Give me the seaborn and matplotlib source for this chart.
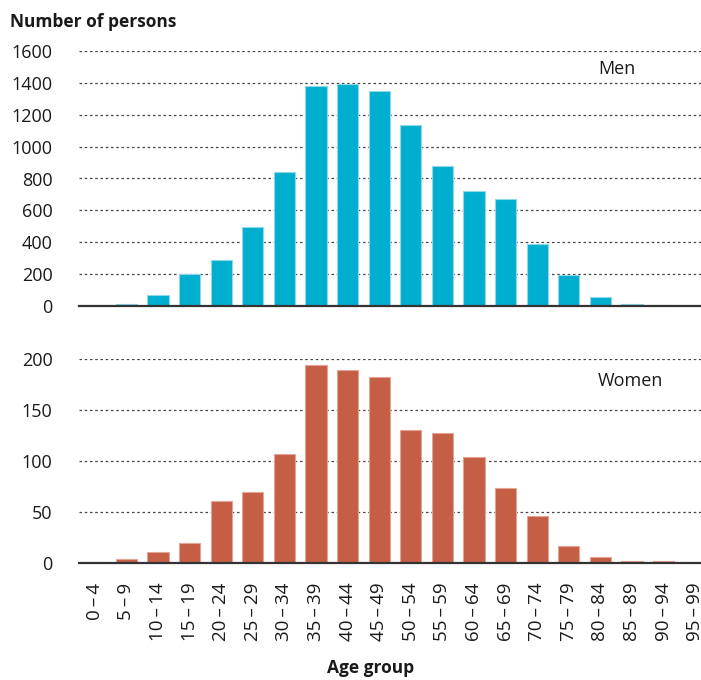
import matplotlib
matplotlib.use("Agg")
import matplotlib.pyplot as plt
import seaborn as sns
import pandas as pd

# Age groups and counts
age_groups = ["0–4", "5–9", "10–14", "15–19", "20–24", "25–29", "30–34",
              "35–39", "40–44", "45–49", "50–54", "55–59", "60–64", "65–69",
              "70–74", "75–79", "80–84", "85–89", "90–94", "95–99"]
men = [0, 14, 70, 200, 291, 493, 841, 1380, 1392, 1346, 1134, 876, 723,
       671, 390, 195, 55, 15, 6, 0]
women = [0, 3.5, 11, 20, 61, 70, 107, 194, 189, 182, 130, 127, 103.5,
         74, 46.5, 16.5, 5.5, 2, 2, 0]

men_ticks = [0, 200, 400, 600, 800, 1000, 1200, 1400, 1600]
women_ticks = [0, 50, 100, 150, 200]

MEN_COLOR = "#00AECF"
WOMEN_COLOR = "#C45E45"

sns.set_theme(style="white")
plt.rcParams["font.family"] = ["Open Sans", "DejaVu Sans"]

df = pd.DataFrame({"age": age_groups, "men": men, "women": women})

W, H = 701, 680
fig = plt.figure(figsize=(W / 100, H / 100), dpi=100)

left = 79 / W
width = 632 / W
ax_m = fig.add_axes([left, 1 - 306 / H, width, 255 / H])
ax_w = fig.add_axes([left, 1 - 563 / H, width, 204 / H])


def style_panel(ax, ticks, color, edge, col):
    sns.barplot(data=df, x="age", y=col, color=color, saturation=1,
                width=0.665, edgecolor=edge, linewidth=0.8, ax=ax)
    ax.set_ylim(0, ticks[-1])
    ax.set_yticks(ticks)
    ax.set_xlim(-0.5, len(age_groups) - 0.5)
    ax.yaxis.grid(True, linestyle=(0, (2, 2.2)), color="#444444", lw=0.9)
    ax.set_axisbelow(True)
    for s in ["left", "right", "top"]:
        ax.spines[s].set_visible(False)
    ax.spines["bottom"].set_color("#333333")
    ax.spines["bottom"].set_linewidth(1.6)
    ax.tick_params(axis="y", length=0, pad=19, labelsize=13, labelcolor="#1a1a1a")
    ax.set_xlabel("")
    ax.set_ylabel("")


style_panel(ax_m, men_ticks, MEN_COLOR, "#8FD8E8", "men")
style_panel(ax_w, women_ticks, WOMEN_COLOR, "#E5A594", "women")

# spaced-out dash as in the original labels
xlabels = [a.replace("–", "\u2009–\u2009") for a in age_groups]

ax_m.tick_params(axis="x", length=0, labelbottom=False)
ax_w.tick_params(axis="x", length=0, pad=14, labelcolor="#1a1a1a")
ax_w.set_xticks(range(len(age_groups)))
ax_w.set_xticklabels(xlabels, rotation=90, va="top", ha="center", fontsize=13.5)

fig.text(10 / W, 1 - 22 / H, "Number of persons", fontsize=12.5,
         fontweight="bold", ha="left", va="center", color="#1a1a1a")
fig.text(598 / W, 1 - 69 / H, "Men", fontsize=13, ha="left", va="center",
         color="#1a1a1a")
fig.text(598 / W, 1 - 381 / H, "Women", fontsize=13, ha="left", va="center",
         color="#1a1a1a")
fig.text(371 / W, 1 - 668 / H, "Age group", fontsize=12.5, fontweight="bold",
         ha="center", va="center", color="#1a1a1a")

fig.savefig("out.png", dpi=100)
